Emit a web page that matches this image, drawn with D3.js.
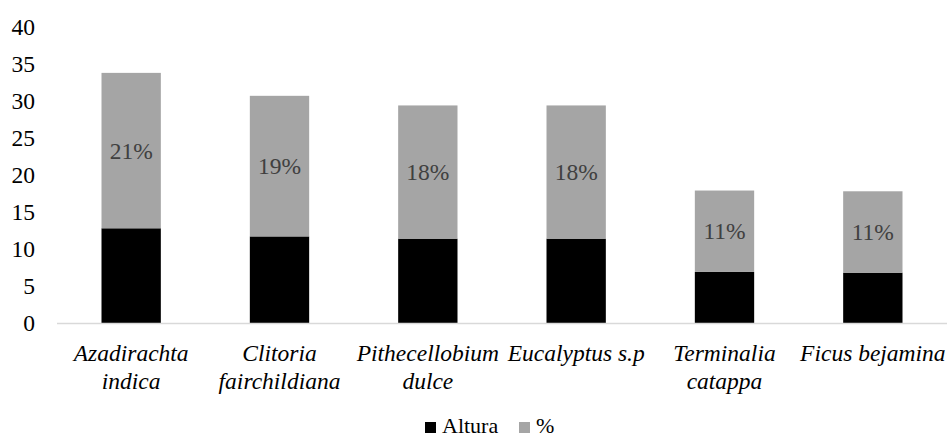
<!DOCTYPE html>
<html>
<head>
<meta charset="utf-8">
<script src="https://cdn.jsdelivr.net/npm/d3@7"></script>
<style>
  html, body { margin: 0; padding: 0; background: #fff; }
  svg { display: block; }
  svg text { font-family: "Liberation Serif", "Times New Roman", Tinos, "DejaVu Serif", serif !important; }
</style>
</head>
<body>
<svg id="chart" width="951" height="439"></svg>
<script>
// Species (each entry split into the lines shown under the axis)
const categories = [
  ["Azadirachta", "indica"],
  ["Clitoria", "fairchildiana"],
  ["Pithecellobium", "dulce"],
  ["Eucalyptus s.p"],
  ["Terminalia", "catappa"],
  ["Ficus bejamina"]
];
// Height (m)
const altura = [12.8, 11.7, 11.4, 11.4, 6.9, 6.8];
// Share of individuals (%)
const porcentaje = [21, 19, 18, 18, 11, 11];
const yTicks = [0, 5, 10, 15, 20, 25, 30, 35, 40];
const seriesNames = ["Altura", "%"];
const seriesColors = ["#000000", "#A5A5A5"];

const svg = d3.select("#chart");
const margin = { left: 57, right: 4, top: 27, bottom: 116 };
const W = 951, H = 439;
const fontSize = 23.5;
const serif = '"Liberation Serif", "Times New Roman", Tinos, "DejaVu Serif", serif';

const keys = categories.map(c => c.join(" "));
const x = d3.scaleBand().domain(keys).range([margin.left, W - margin.right])
  .paddingInner(0.6).paddingOuter(0.3);
const y = d3.scaleLinear().domain([0, 40]).range([H - margin.bottom, margin.top]);

// Y axis labels (no axis line, no gridlines)
const yAxis = d3.axisLeft(y).tickValues(yTicks).tickSize(0).tickPadding(0);
const gy = svg.append("g").attr("transform", "translate(35,0)").call(yAxis)
  .attr("font-family", serif).attr("font-size", fontSize);
gy.select(".domain").remove();
gy.selectAll("text").style("font-family", serif)
  .attr("font-size", fontSize).attr("fill", "#000");

// Stacked bars
const rows = keys.map((k, i) => ({ key: k, Altura: altura[i], "%": porcentaje[i], pct: porcentaje[i] }));
const stack = d3.stack().keys(seriesNames)(rows);

svg.append("g").selectAll("g").data(stack).join("g")
  .attr("fill", (d, i) => seriesColors[i])
  .selectAll("rect").data(d => d).join("rect")
  .attr("x", d => x(d.data.key))
  .attr("width", x.bandwidth())
  .attr("y", d => y(d[1]))
  .attr("height", d => y(d[0]) - y(d[1]));

// Percentage labels centred in the grey segment
svg.append("g").selectAll("text").data(stack[1]).join("text")
  .attr("x", d => x(d.data.key) + x.bandwidth() / 2)
  .attr("y", d => (y(d[0]) + y(d[1])) / 2)
  .attr("dy", "0.35em")
  .attr("text-anchor", "middle")
  .style("font-family", serif)
  .attr("font-size", fontSize)
  .attr("fill", "#404040")
  .text(d => d.data.pct + "%");

// Category axis line
const xAxis = d3.axisBottom(x).tickSize(0).tickFormat("");
const gx = svg.append("g").attr("transform", `translate(0,${y(0) + 0.5})`).call(xAxis);
gx.select(".domain").attr("stroke", "#D9D9D9").attr("stroke-width", 1.5)
  .attr("d", `M${margin.left},0H${W - margin.right}`);

// Category labels in italics, one tspan per line
const lbl = svg.append("g").selectAll("text").data(categories).join("text")
  .attr("text-anchor", "middle")
  .style("font-family", serif)
  .attr("font-style", "italic")
  .attr("font-size", fontSize)
  .attr("fill", "#000")
  .attr("transform", (d, i) => `translate(${x(keys[i]) + x.bandwidth() / 2},361)`);
lbl.selectAll("tspan").data(d => d).join("tspan")
  .attr("x", 0)
  .attr("dy", (d, i) => i === 0 ? 0 : 27.7)
  .text(d => d);

// Legend: square marker sitting on the text baseline
const legend = svg.append("g").attr("transform", "translate(425,433)");
const legendX = [0, 94];
seriesNames.forEach((name, i) => {
  const g = legend.append("g").attr("transform", `translate(${legendX[i]},0)`);
  g.append("rect").attr("x", 0).attr("y", -11).attr("width", 11).attr("height", 11)
    .attr("fill", seriesColors[i]);
  g.append("text").attr("x", 17).attr("y", 0)
    .style("font-family", serif)
    .attr("font-size", 22).attr("fill", "#000").text(name);
});
</script>
</body>
</html>
